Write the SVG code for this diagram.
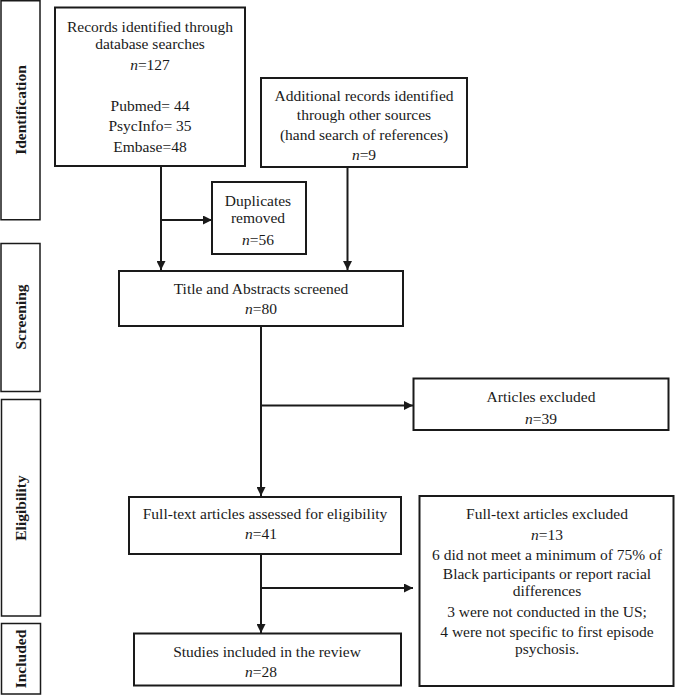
<svg xmlns="http://www.w3.org/2000/svg" width="675" height="695" viewBox="0 0 675 695" font-family="Liberation Serif, Times New Roman, DejaVu Serif, serif">
<style>
  .box{fill:#fff;stroke:#1a1a1a;stroke-width:2}
  .side{fill:#fff;stroke:#1a1a1a;stroke-width:1.5}
  text{font-family:'Liberation Serif','Times New Roman','DejaVu Serif',serif}
  .t{font-size:15.5px;fill:#1a1a1a;text-anchor:middle}
  .s{font-size:15.5px;font-weight:bold;fill:#1a1a1a;text-anchor:middle}
  .ln{fill:none;stroke:#1a1a1a;stroke-width:2}
</style>
<defs>
  <marker id="ah" viewBox="0 0 10 10" refX="10" refY="5" markerWidth="4.5" markerHeight="4.5" orient="auto" markerUnits="strokeWidth">
    <path d="M0,0 L10,5 L0,10 z" fill="#1a1a1a"/>
  </marker>
</defs>
<rect width="675" height="695" fill="#fff"/>

<g id="side-identification">
  <rect class="side" x="1" y="0.75" width="39" height="219"/>
  <text class="s" transform="translate(26,110) rotate(-90)">Identification</text>
</g>
<g id="side-screening">
  <rect class="side" x="1" y="243.5" width="39" height="148"/>
  <text class="s" transform="translate(26,317) rotate(-90)">Screening</text>
</g>
<g id="side-eligibility">
  <rect class="side" x="1.5" y="399.5" width="39" height="216.5"/>
  <text class="s" transform="translate(26,508) rotate(-90)">Eligibility</text>
</g>
<g id="side-included">
  <rect class="side" x="1.5" y="623.5" width="39" height="70.5"/>
  <text class="s" transform="translate(26,659) rotate(-90)">Included</text>
</g>

<g id="connectors">
  <line class="ln" x1="161" y1="166" x2="161" y2="270" marker-end="url(#ah)"/>
  <line class="ln" x1="161" y1="220" x2="212" y2="220" marker-end="url(#ah)"/>
  <line class="ln" x1="347.5" y1="167" x2="347.5" y2="270" marker-end="url(#ah)"/>
  <line class="ln" x1="261" y1="326" x2="261" y2="496" marker-end="url(#ah)"/>
  <line class="ln" x1="261" y1="405.5" x2="413" y2="405.5" marker-end="url(#ah)"/>
  <line class="ln" x1="261" y1="554" x2="261" y2="633" marker-end="url(#ah)"/>
  <line class="ln" x1="261" y1="588" x2="413" y2="588" marker-end="url(#ah)"/>
</g>

<g id="records">
  <rect class="box" x="55" y="7.5" width="190" height="158.5"/>
  <text class="t" x="150" y="31.5">Records identified through</text>
  <text class="t" x="150" y="49">database searches</text>
  <text class="t" x="150" y="70"><tspan font-style="italic">n</tspan>=127</text>
  <text class="t" x="150" y="111">Pubmed= 44</text>
  <text class="t" x="150" y="131">PsycInfo= 35</text>
  <text class="t" x="150" y="152">Embase=48</text>
</g>

<g id="additional">
  <rect class="box" x="261" y="78" width="206" height="89"/>
  <text class="t" x="364" y="101">Additional records identified</text>
  <text class="t" x="364" y="119.5">through other sources</text>
  <text class="t" x="364" y="140">(hand search of references)</text>
  <text class="t" x="364" y="159.5"><tspan font-style="italic">n</tspan>=9</text>
</g>

<g id="duplicates">
  <rect class="box" x="212" y="182" width="94" height="72"/>
  <text class="t" x="258" y="205.5">Duplicates</text>
  <text class="t" x="258" y="223">removed</text>
  <text class="t" x="258" y="245"><tspan font-style="italic">n</tspan>=56</text>
</g>

<g id="screened">
  <rect class="box" x="119" y="271" width="284" height="55"/>
  <text class="t" x="261" y="293.5">Title and Abstracts screened</text>
  <text class="t" x="261" y="314"><tspan font-style="italic">n</tspan>=80</text>
</g>

<g id="articles-excluded">
  <rect class="box" x="413.5" y="378.5" width="255" height="51.5"/>
  <text class="t" x="541" y="401.5">Articles excluded</text>
  <text class="t" x="541" y="424"><tspan font-style="italic">n</tspan>=39</text>
</g>

<g id="fulltext-assessed">
  <rect class="box" x="129" y="497" width="272" height="57"/>
  <text class="t" x="265" y="519">Full-text articles assessed for eligibility</text>
  <text class="t" x="261" y="539"><tspan font-style="italic">n</tspan>=41</text>
</g>

<g id="fulltext-excluded">
  <rect class="box" x="419.5" y="496" width="254" height="190"/>
  <text class="t" x="547" y="519">Full-text articles excluded</text>
  <text class="t" x="547" y="539.5"><tspan font-style="italic">n</tspan>=13</text>
  <text class="t" x="547" y="560">6 did not meet a minimum of 75% of</text>
  <text class="t" x="547" y="578.5">Black participants or report racial</text>
  <text class="t" x="547" y="596">differences</text>
  <text class="t" x="547" y="617">3 were not conducted in the US;</text>
  <text class="t" x="547" y="637">4 were not specific to first episode</text>
  <text class="t" x="547" y="653.5">psychosis.</text>
</g>

<g id="included">
  <rect class="box" x="134" y="633.5" width="267" height="52"/>
  <text class="t" x="267" y="657">Studies included in the review</text>
  <text class="t" x="261" y="677"><tspan font-style="italic">n</tspan>=28</text>
</g>
</svg>
